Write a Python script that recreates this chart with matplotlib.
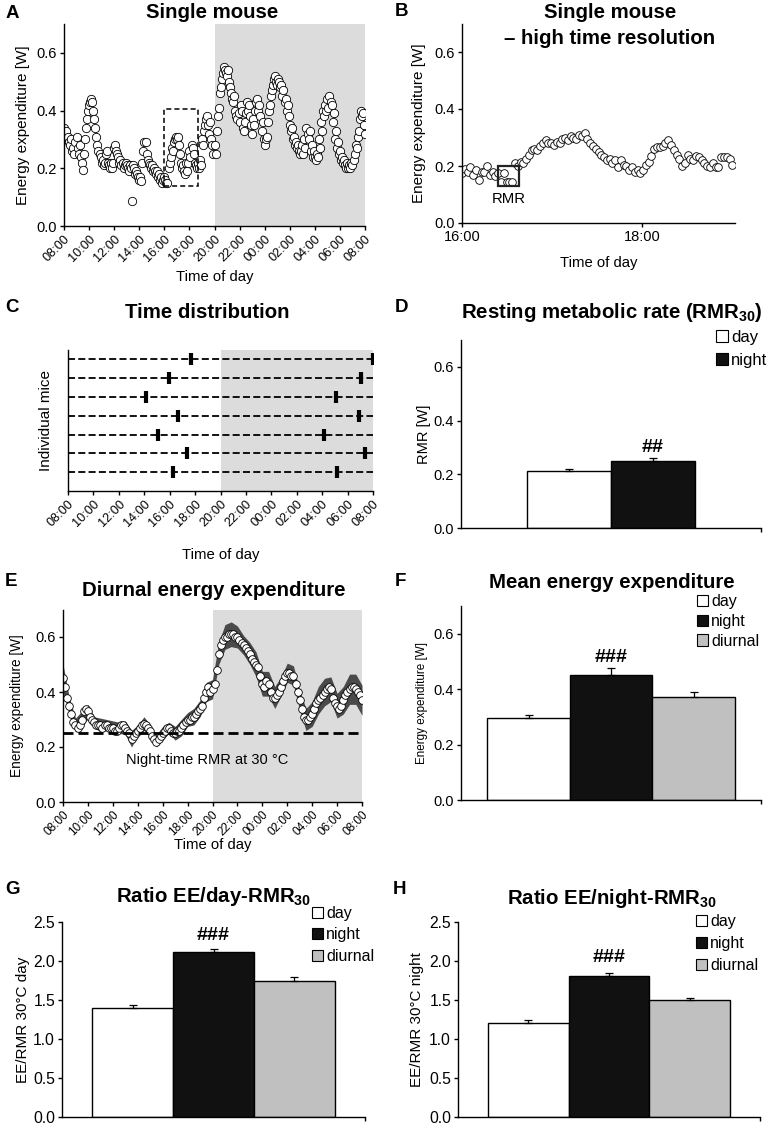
import numpy as np
import matplotlib
matplotlib.use('Agg')
import matplotlib.pyplot as plt
from matplotlib.patches import Rectangle, Patch

plt.rcParams['font.family'] = ['Liberation Sans', 'DejaVu Sans']
plt.rcParams['mathtext.fontset'] = 'custom'
plt.rcParams['mathtext.rm'] = 'Liberation Sans'
plt.rcParams['mathtext.bf'] = 'Liberation Sans:bold'

# ---- data ----
hour_labels = ['08:00', '10:00', '12:00', '14:00', '16:00', '18:00', '20:00',
               '22:00', '00:00', '02:00', '04:00', '06:00', '08:00']

# A: single mouse, one value every 5 min from 08:00
a_ee = [0.34, 0.32, 0.33, 0.30, 0.31, 0.29, 0.28, 0.30, 0.26, 0.27, 0.25, 0.29,
        0.31, 0.27, 0.25, 0.28, 0.24, 0.22, 0.195, 0.25, 0.30, 0.34, 0.37, 0.40,
        0.42, 0.43, 0.44, 0.43, 0.40, 0.37, 0.34, 0.31, 0.28, 0.26, 0.25, 0.24,
        0.22, 0.23, 0.21, 0.22, 0.25, 0.26, 0.22, 0.21, 0.20, 0.22, 0.20, 0.22,
        0.27, 0.28, 0.26, 0.25, 0.24, 0.22, 0.23, 0.21, 0.22, 0.20, 0.21, 0.22,
        0.21, 0.20, 0.19, 0.21, 0.20, 0.085, 0.21, 0.20, 0.18, 0.19, 0.18, 0.17,
        0.16, 0.17, 0.155, 0.22, 0.26, 0.29, 0.29, 0.25, 0.23, 0.22, 0.21, 0.20,
        0.21, 0.19, 0.20, 0.19, 0.18, 0.19, 0.17, 0.18, 0.16, 0.17, 0.15, 0.16,
        0.17, 0.16, 0.148, 0.15, 0.20, 0.22, 0.24, 0.27, 0.26, 0.29, 0.30, 0.31,
        0.30, 0.31, 0.28, 0.25, 0.22, 0.20, 0.21, 0.19, 0.18, 0.22, 0.19, 0.22,
        0.26, 0.24, 0.28, 0.27, 0.25, 0.22, 0.21, 0.20, 0.22, 0.20, 0.23, 0.21,
        0.30, 0.28, 0.33, 0.35, 0.37, 0.38, 0.35, 0.32, 0.36, 0.30, 0.28, 0.25,
        0.28, 0.25, 0.33, 0.38, 0.41, 0.46, 0.48, 0.51, 0.53, 0.55, 0.54, 0.53,
        0.52, 0.54, 0.50, 0.48, 0.46, 0.44, 0.43, 0.45, 0.40, 0.38, 0.37, 0.39,
        0.36, 0.42, 0.40, 0.34, 0.33, 0.36, 0.39, 0.43, 0.40, 0.42, 0.38, 0.35,
        0.32, 0.37, 0.35, 0.40, 0.43, 0.44, 0.40, 0.42, 0.38, 0.33, 0.36, 0.30,
        0.28, 0.30, 0.31, 0.36, 0.40, 0.42, 0.45, 0.47, 0.49, 0.51, 0.52, 0.50,
        0.49, 0.51, 0.50, 0.48, 0.49, 0.45, 0.47, 0.43, 0.44, 0.40, 0.42, 0.38,
        0.35, 0.33, 0.34, 0.30, 0.31, 0.28, 0.29, 0.27, 0.28, 0.26, 0.25, 0.26,
        0.28, 0.25, 0.30, 0.27, 0.34, 0.32, 0.30, 0.33, 0.26, 0.28, 0.24, 0.26,
        0.24, 0.23, 0.25, 0.24, 0.30, 0.27, 0.36, 0.33, 0.40, 0.38, 0.42, 0.40,
        0.44, 0.41, 0.45, 0.43, 0.42, 0.36, 0.39, 0.30, 0.33, 0.27, 0.29, 0.25,
        0.26, 0.23, 0.24, 0.22, 0.23, 0.21, 0.20, 0.22, 0.20, 0.21, 0.20, 0.22,
        0.21, 0.23, 0.25, 0.28, 0.27, 0.31, 0.33, 0.37, 0.40, 0.38, 0.39, 0.35,
        0.32]
a_box = (16.0, 18.69, 0.137, 0.405)

# B: same mouse 16:00-19:00, high time resolution
b_ee = [0.174, 0.19, 0.18, 0.195, 0.17, 0.185, 0.15, 0.18, 0.18, 0.20,
        0.17, 0.18, 0.165, 0.175, 0.145, 0.175, 0.145, 0.145, 0.145, 0.21,
        0.20, 0.215, 0.21, 0.225, 0.24, 0.255, 0.26, 0.255, 0.27, 0.28,
        0.29, 0.28, 0.28, 0.275, 0.285, 0.28, 0.295, 0.30, 0.29, 0.305,
        0.30, 0.295, 0.31, 0.305, 0.315, 0.295, 0.28, 0.27, 0.26, 0.25,
        0.24, 0.23, 0.22, 0.225, 0.21, 0.22, 0.195, 0.22, 0.205, 0.20,
        0.185, 0.195, 0.18, 0.185, 0.175, 0.185, 0.205, 0.215, 0.235, 0.26,
        0.265, 0.265, 0.27, 0.28, 0.29, 0.275, 0.255, 0.24, 0.225, 0.20,
        0.21, 0.24, 0.225, 0.22, 0.235, 0.23, 0.22, 0.21, 0.20, 0.195,
        0.21, 0.195, 0.195, 0.23, 0.23, 0.23, 0.225, 0.205]
b_start, b_end = 16.0, 19.0
b_rmr_box = (16.395, 16.635, 0.13, 0.20)

# C: time of RMR per mouse (day, night)
c_rmr_day = ['17:40', '15:56', '14:10', '16:41', '15:04', '17:22', '16:17']
c_rmr_night = ['07:58', '07:02', '05:04', '06:53', '04:10', '07:23', '05:08']

# D
groups = ['day', 'night', 'diurnal']
rmr = [0.213, 0.249]
rmr_err = [0.008, 0.010]

# E: group mean (every 10 min) and SEM (every 30 min)
e_mean = [0.45, 0.42, 0.38, 0.35, 0.32, 0.29,
          0.28, 0.27, 0.28, 0.30, 0.33, 0.34,
          0.33, 0.31, 0.30, 0.29, 0.28, 0.28,
          0.28, 0.27, 0.28, 0.28, 0.27, 0.27,
          0.27, 0.26, 0.26, 0.27, 0.28, 0.28,
          0.27, 0.26, 0.25, 0.23, 0.24, 0.25,
          0.26, 0.27, 0.28, 0.285, 0.28, 0.27,
          0.26, 0.24, 0.23, 0.22, 0.23, 0.24,
          0.25, 0.26, 0.27, 0.27, 0.26, 0.25,
          0.25, 0.26, 0.26, 0.27, 0.28, 0.29,
          0.30, 0.30, 0.31, 0.31, 0.32, 0.33,
          0.34, 0.35, 0.38, 0.40, 0.42, 0.40,
          0.41, 0.43, 0.48, 0.54, 0.57, 0.59,
          0.60, 0.60, 0.61, 0.61, 0.61, 0.60,
          0.60, 0.59, 0.58, 0.57, 0.56, 0.55,
          0.54, 0.52, 0.51, 0.50, 0.49, 0.46,
          0.43, 0.42, 0.44, 0.43, 0.40, 0.38,
          0.38, 0.39, 0.40, 0.42, 0.44, 0.46,
          0.47, 0.47, 0.46, 0.46, 0.43, 0.40,
          0.37, 0.34, 0.31, 0.30, 0.30, 0.31,
          0.32, 0.34, 0.36, 0.37, 0.38, 0.39,
          0.40, 0.41, 0.42, 0.41, 0.38, 0.36,
          0.35, 0.34, 0.35, 0.37, 0.39, 0.40,
          0.41, 0.42, 0.42, 0.41, 0.40, 0.39,
          0.37]
e_sem = [0.05, 0.03, 0.025, 0.03, 0.025, 0.02, 0.025, 0.02, 0.025, 0.02,
         0.025, 0.03, 0.02, 0.025, 0.02, 0.02, 0.025, 0.02, 0.025, 0.03,
         0.025, 0.03, 0.03, 0.035, 0.035, 0.04, 0.045, 0.045, 0.04, 0.035,
         0.04, 0.045, 0.045, 0.045, 0.04, 0.035, 0.035, 0.035, 0.035, 0.04,
         0.045, 0.05, 0.05, 0.045, 0.045, 0.05, 0.055, 0.055, 0.055]
e_rmr_night = 0.25

# F, G, H
mean_ee = [0.295, 0.45, 0.372]
mean_ee_err = [0.010, 0.028, 0.018]
ratio_day = [1.40, 2.12, 1.75]
ratio_day_err = [0.03, 0.03, 0.05]
ratio_night = [1.20, 1.81, 1.50]
ratio_night_err = [0.04, 0.04, 0.02]

bar_colors = ['white', '#111111', '#c0c0c0']
shade = '#dcdcdc'

# ---- layout ----
W, H = 778, 1125
fig = plt.figure(figsize=(W / 100, H / 100), dpi=100)


def box(l, t, r, b):
    return [l / W, 1 - b / H, (r - l) / W, (b - t) / H]


def ftext(x, y, s, **kw):
    fig.text(x / W, 1 - y / H, s, **kw)


def style(ax, ls=10.5):
    for s in ['top', 'right']:
        ax.spines[s].set_visible(False)
    ax.spines['left'].set_linewidth(1.0)
    ax.spines['bottom'].set_linewidth(1.0)
    ax.tick_params(direction='out', length=3, width=1, labelsize=ls, pad=2)


def day_axis(ax, fs=9.2):
    ax.set_xlim(0, 24)
    ax.set_xticks(np.arange(0, 25, 2))
    ax.set_xticklabels(hour_labels, rotation=45, ha='right',
                       rotation_mode='anchor', fontsize=fs)
    ax.axvspan(12, 24, color=shade, zorder=0, lw=0)


def ee_yaxis(ax):
    ax.set_ylim(0, 0.7)
    ax.set_yticks([0, 0.2, 0.4, 0.6])
    ax.set_yticklabels(['0.0', '0.2', '0.4', '0.6'])


def xlabel_at(ax, text, top, bottom, y):
    # y: pixel row for the top of the label
    ax.set_xlabel(text, fontsize=10.7)
    ax.xaxis.set_label_coords(0.5, -(y - bottom) / (bottom - top))


def hhmm(s):
    h, m = s.split(':')
    return (int(h) + int(m) / 60 - 8) % 24


def bars(ax, vals, errs, width):
    n = len(vals)
    xs = (np.arange(n) - (n - 1) / 2) * width
    ax.bar(xs, vals, width, color=bar_colors[:n], edgecolor='black', lw=1,
           zorder=2)
    ax.errorbar(xs, vals, yerr=[np.zeros(n), errs], fmt='none',
                ecolor='black', elinewidth=0.9, capsize=3, capthick=0.9,
                zorder=3)
    ax.set_xlim(-0.5, 0.5)
    ax.set_xticks([0.5])
    ax.set_xticklabels([])
    return xs


def bar_legend(x, y, n, fs=11.5, sp=0.4):
    handles = [Patch(facecolor=bar_colors[i], edgecolor='black', lw=0.8)
               for i in range(n)]
    fig.legend(handles, groups[:n], loc='upper left',
               bbox_to_anchor=(x / W, 1 - y / H), frameon=False,
               handlelength=0.7, handleheight=0.7, handletextpad=0.2,
               labelspacing=sp, fontsize=fs, borderaxespad=0,
               borderpad=0)


title_kw = dict(fontsize=14.7, fontweight='bold', ha='center', va='center')
letter_kw = dict(fontsize=13.5, fontweight='bold', ha='left', va='center')
hash_kw = dict(ha='center', va='center', fontsize=14, fontweight='bold')

# A
ax = fig.add_axes(box(64, 24, 365, 226))
style(ax)
day_axis(ax)
ta = np.arange(len(a_ee)) / 12
ax.plot(ta, a_ee, 'o', ms=6, mfc='white', mec='black', mew=0.6,
        ls='none', zorder=2)
ax.add_patch(Rectangle((a_box[0] - 8, a_box[2]), a_box[1] - a_box[0],
                       a_box[3] - a_box[2], fill=False, ls=(0, (3.3, 2)),
                       lw=1.1, ec='black', zorder=3))
ee_yaxis(ax)
ax.set_ylabel('Energy expenditure [W]', fontsize=11, labelpad=5)
xlabel_at(ax, 'Time of day', 24, 226, 270)
ftext(212, 12, 'Single mouse', **title_kw)
ftext(6, 13, 'A', **letter_kw)

# B
ax = fig.add_axes(box(462, 23.5, 735, 223))
style(ax)
tb = np.linspace(b_start, b_end, len(b_ee))
ax.plot(tb, b_ee, 'o', ms=5.5, mfc='white', mec='black', mew=0.6,
        ls='none')
ax.add_patch(Rectangle((b_rmr_box[0], b_rmr_box[2]),
                       b_rmr_box[1] - b_rmr_box[0],
                       b_rmr_box[3] - b_rmr_box[2], fill=False, lw=1.6,
                       ec='#222222', zorder=3))
ax.text((b_rmr_box[0] + b_rmr_box[1]) / 2, 0.085, 'RMR', ha='center',
        va='center', fontsize=10.7)
ax.set_xlim(16, 19.03)
ax.set_xticks([16, 18])
ax.set_xticklabels(['16:00', '18:00'])
ee_yaxis(ax)
ax.set_ylabel('Energy expenditure [W]', fontsize=11, labelpad=6)
xlabel_at(ax, 'Time of day', 23.5, 223, 256)
ftext(610, 12, 'Single mouse', **title_kw)
ftext(610, 38, '\u2013 high time resolution', **title_kw)
ftext(395, 12, 'B', **letter_kw)

# C
ax = fig.add_axes(box(68, 350, 373, 491))
style(ax)
day_axis(ax)
rows = np.arange(len(c_rmr_day), 0, -1)
for r, d, n in zip(rows, c_rmr_day, c_rmr_night):
    ax.plot([0, 24], [r, r], color='black', lw=1.3, ls=(0, (3.9, 1.8)),
            zorder=1)
    ax.plot([hhmm(d), hhmm(n)], [r, r], '|', color='black', ms=9,
            mew=3, zorder=2)
ax.set_ylim(0, 7.5)
ax.set_yticks([])
ax.set_ylabel('Individual mice', fontsize=11, labelpad=11)
xlabel_at(ax, 'Time of day', 350, 491, 548)
ftext(207, 312, 'Time distribution', **title_kw)
ftext(5, 308, 'C', **letter_kw)

# D
ax = fig.add_axes(box(461, 340, 761, 528))
style(ax)
xs = bars(ax, rmr, rmr_err, 0.28)
ax.text(xs[1], 0.30, '##', **hash_kw)
ee_yaxis(ax)
ax.set_ylabel('RMR [W]', fontsize=10.5, labelpad=2)
bar_legend(716, 330, 2, fs=12, sp=0.45)
ftext(612, 312, r'Resting metabolic rate (RMR$_\mathregular{30}$)',
      **title_kw)
ftext(395, 308, 'D', **letter_kw)

# E
ax = fig.add_axes(box(63, 609.5, 362, 802))
style(ax)
day_axis(ax, fs=8.5)
te = np.arange(len(e_mean)) / 6
tsem = np.arange(len(e_sem)) / 2
em = np.array(e_mean)[::3]
ax.fill_between(tsem, em - np.array(e_sem), em + np.array(e_sem),
                color='#4a4a4a', lw=0, zorder=1)
ax.plot(te, e_mean, 'o', ms=5.5, mfc='white', mec='black', mew=0.6,
        ls='none', zorder=2)
ax.plot([0, 24], [e_rmr_night, e_rmr_night], color='black', lw=2,
        ls=(0, (3.6, 1.8)), zorder=3)
ax.text(11.6, 0.153, 'Night-time RMR at 30 \u00b0C', ha='center',
        va='center', fontsize=10.5)
ee_yaxis(ax)
ax.set_ylabel('Energy expenditure [W]', fontsize=9.8, labelpad=8)
xlabel_at(ax, 'Time of day', 609.5, 802, 838)
ftext(214, 590, 'Diurnal energy expenditure', **title_kw)
ftext(5, 581, 'E', **letter_kw)

# F
ax = fig.add_axes(box(461, 606, 761, 800))
style(ax)
xs = bars(ax, mean_ee, mean_ee_err, 0.275)
ax.text(xs[1], 0.515, '###', **hash_kw)
ee_yaxis(ax)
ax.set_ylabel('Energy expenditure [W]', fontsize=8.4, labelpad=4)
bar_legend(697, 594, 3, sp=0.3)
ftext(612, 583, 'Mean energy expenditure', **title_kw)
ftext(395, 581, 'F', **letter_kw)

# G
ax = fig.add_axes(box(62, 922, 365, 1117))
style(ax, 11.3)
xs = bars(ax, ratio_day, ratio_day_err, 0.267)
ax.text(xs[1], 2.33, '###', **hash_kw)
ax.set_ylim(0, 2.5)
ax.set_yticks(np.arange(0, 2.51, 0.5))
ax.set_yticklabels(['0.0', '0.5', '1.0', '1.5', '2.0', '2.5'])
ax.set_ylabel('EE/RMR 30\u00b0C day', fontsize=11, labelpad=2)
bar_legend(312, 906, 3, sp=0.4)
ftext(214, 897, r'Ratio EE/day-RMR$_\mathregular{30}$', **title_kw)
ftext(5, 890, 'G', **letter_kw)

# H
ax = fig.add_axes(box(458, 922, 760, 1117))
style(ax, 11.3)
xs = bars(ax, ratio_night, ratio_night_err, 0.267)
ax.text(xs[1], 2.05, '###', **hash_kw)
ax.set_ylim(0, 2.5)
ax.set_yticks(np.arange(0, 2.51, 0.5))
ax.set_yticklabels(['0.0', '0.5', '1.0', '1.5', '2.0', '2.5'])
ax.set_ylabel('EE/RMR 30\u00b0C night', fontsize=11, labelpad=4)
bar_legend(696, 914, 3, sp=0.45)
ftext(612, 898, r'Ratio EE/night-RMR$_\mathregular{30}$', **title_kw)
ftext(393, 890, 'H', **letter_kw)

fig.savefig('out.png', dpi=100)
